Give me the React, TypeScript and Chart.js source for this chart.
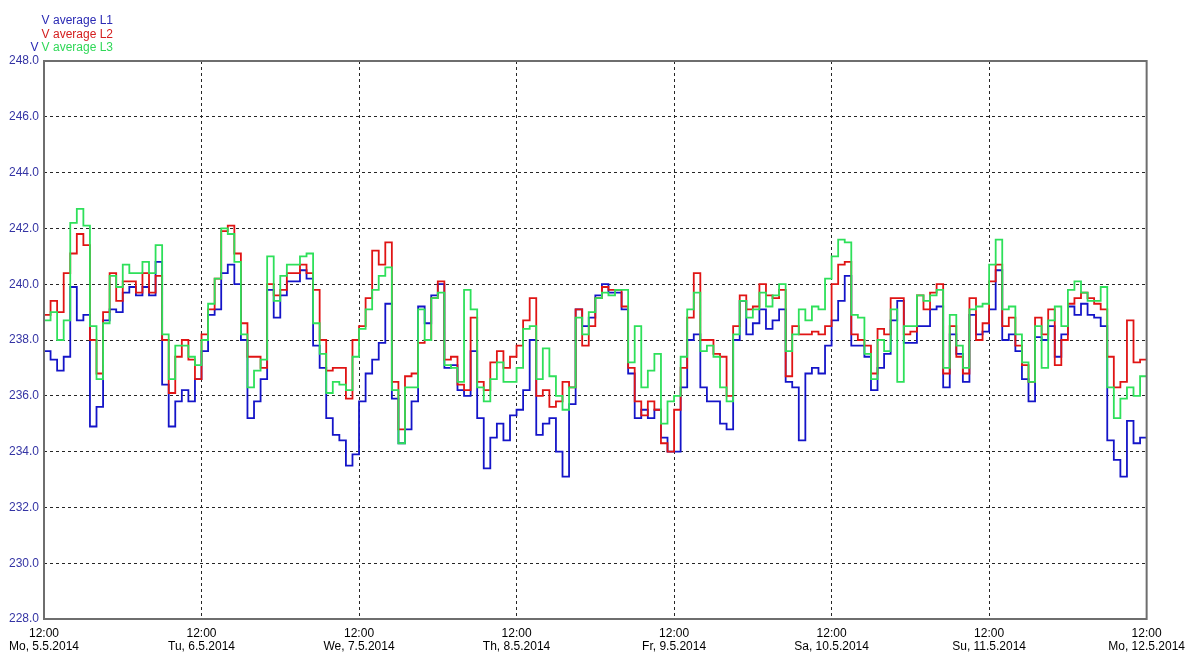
import React, { useEffect, useRef } from "react";
import { Chart, registerables } from "chart.js";

Chart.register(...registerables);

// Day tick labels (each tick is 12:00 of that day)
const timeLabel = "12:00";
const dayLabels = [
  "Mo, 5.5.2014",
  "Tu, 6.5.2014",
  "We, 7.5.2014",
  "Th, 8.5.2014",
  "Fr, 9.5.2014",
  "Sa, 10.5.2014",
  "Su, 11.5.2014",
  "Mo, 12.5.2014",
];
const yTickValues = [228, 230, 232, 234, 236, 238, 240, 242, 244, 246, 248];

// Hourly averages, starting Mo 5.5.2014 12:00 (index = hours)
const L1 = [
  237.4, 237.6, 237.3, 236.9, 237.4, 239.9, 238.7, 238.9, 234.9, 235.6,
  238.7, 239.1, 239.0, 239.7, 239.9, 239.6, 239.9, 239.6, 240.8, 236.4,
  234.9, 235.8, 236.2, 235.8, 236.6, 237.6, 238.9, 239.1, 240.4, 240.7,
  240.0, 238.0, 235.2, 235.8, 236.6, 239.8, 238.8, 239.6, 240.1, 240.1,
  240.5, 240.2, 237.8, 237.0, 235.2, 234.6, 234.4, 233.5, 233.9, 235.8,
  236.8, 237.3, 237.9, 239.3, 235.9, 234.3, 234.8, 235.8, 239.2, 238.6,
  239.6, 240.0, 237.0, 237.1, 236.2, 236.0, 237.6, 235.2, 233.4, 234.5,
  235.0, 234.4, 235.3, 235.5, 236.2, 238.0, 234.6, 235.0, 235.2, 234.0,
  233.1, 235.7, 239.1, 238.5, 238.8, 239.6, 240.0, 239.7, 239.7, 239.1,
  236.8, 235.2, 235.5, 235.2, 235.5, 234.5, 234.0, 234.0, 236.3, 238.0,
  238.2, 236.3, 235.8, 235.8, 235.0, 234.8, 238.0, 239.4, 238.2, 238.6,
  239.1, 238.4, 238.7, 239.1, 236.5, 236.3, 234.4, 236.8, 237.0, 236.8,
  237.8, 238.7, 239.4, 240.3, 237.8, 237.8, 237.4, 236.2, 237.0, 237.5,
  238.7, 239.4, 237.9, 237.9, 238.5, 238.5, 239.1, 239.2, 236.3, 238.2,
  237.5, 236.5, 238.9, 238.2, 238.3, 239.1, 240.5, 238.0, 238.2, 237.6,
  236.6, 235.8, 238.1, 238.0, 238.5, 237.4, 238.2, 239.2, 238.9, 239.3,
  238.9, 238.8, 238.5, 234.4, 233.7, 233.1, 235.1, 234.3, 234.5,
];

const L2 = [
  238.6, 238.9, 239.4, 239.0, 240.4, 241.1, 241.8, 241.4, 238.0, 236.8,
  239.0, 240.4, 239.4, 240.1, 240.1, 239.7, 240.4, 239.7, 240.3, 238.0,
  236.1, 237.4, 238.0, 237.3, 236.6, 238.2, 239.1, 240.2, 241.9, 242.1,
  241.1, 238.6, 237.4, 237.4, 237.0, 240.0, 239.6, 239.8, 240.4, 240.4,
  240.7, 240.4, 239.8, 238.0, 236.9, 237.0, 237.0, 235.9, 238.0, 238.5,
  239.5, 241.2, 240.7, 241.5, 236.5, 234.8, 236.7, 236.8, 237.9, 238.0,
  239.5, 240.1, 237.3, 237.4, 236.4, 236.2, 238.8, 236.5, 236.2, 237.2,
  237.6, 237.0, 237.4, 237.8, 238.7, 239.5, 236.0, 236.2, 235.6, 235.8,
  236.5, 236.3, 239.1, 237.8, 238.5, 239.5, 239.9, 239.8, 239.8, 239.2,
  237.0, 235.8, 235.3, 235.8, 235.5, 234.3, 234.0, 235.5, 237.0, 238.8,
  240.4, 238.0, 238.0, 237.5, 237.4, 236.0, 238.5, 239.6, 239.1, 239.2,
  240.0, 239.6, 239.5, 239.8, 236.7, 238.5, 238.2, 238.2, 238.3, 238.2,
  238.5, 240.0, 240.7, 240.8, 238.2, 238.0, 237.8, 236.8, 238.4, 238.2,
  239.5, 239.5, 238.2, 238.3, 239.6, 239.1, 239.7, 240.0, 236.8, 238.5,
  237.4, 236.8, 239.5, 238.0, 238.6, 240.1, 240.7, 238.5, 238.8, 237.8,
  237.1, 236.5, 238.8, 238.2, 239.1, 237.1, 238.0, 239.3, 239.5, 239.7,
  239.5, 239.3, 239.1, 237.4, 236.3, 236.5, 238.7, 237.2, 237.3,
];

const L3 = [
  238.2, 238.7, 239.0, 238.0, 238.7, 242.2, 242.7, 242.1, 238.5, 236.6,
  238.6, 240.3, 239.9, 240.7, 240.4, 240.4, 240.8, 240.4, 241.4, 238.2,
  236.6, 237.8, 237.8, 237.4, 237.1, 238.0, 239.3, 240.2, 242.0, 241.8,
  240.8, 238.2, 236.3, 236.9, 237.3, 241.0, 239.4, 240.3, 240.7, 240.7,
  241.0, 241.1, 238.6, 237.5, 236.1, 236.5, 236.4, 236.2, 237.4, 238.4,
  239.1, 239.8, 240.3, 240.6, 236.2, 234.3, 236.3, 236.3, 239.1, 238.0,
  239.5, 239.7, 237.1, 237.0, 236.5, 239.8, 239.1, 236.3, 235.8, 236.6,
  237.2, 236.5, 236.5, 237.0, 238.4, 238.5, 236.6, 237.7, 236.7, 236.0,
  235.5, 236.3, 238.8, 238.2, 239.0, 239.5, 239.7, 239.6, 239.8, 239.8,
  237.2, 238.5, 236.3, 236.9, 237.5, 235.0, 235.8, 236.0, 237.4, 239.1,
  239.7, 237.6, 237.8, 237.4, 236.3, 235.8, 238.2, 239.4, 238.8, 239.1,
  239.7, 239.2, 239.6, 240.0, 237.6, 238.2, 239.1, 238.7, 239.2, 239.1,
  240.2, 241.0, 241.6, 241.5, 238.9, 238.8, 237.5, 236.6, 238.0, 237.6,
  239.1, 236.5, 238.5, 238.5, 239.6, 239.4, 239.6, 239.8, 237.0, 238.9,
  237.8, 237.0, 239.1, 239.2, 239.3, 240.7, 241.6, 239.1, 239.2, 238.2,
  237.2, 236.5, 238.5, 237.0, 238.7, 239.2, 238.5, 239.8, 240.1, 239.7,
  239.4, 239.4, 239.9, 236.3, 235.2, 235.9, 236.3, 236.0, 236.7,
];

const seriesNames = ["V average L1", "V average L2", "V average L3"];
const seriesColors = ["#1414c8", "#e01414", "#2ee05a"];
const legendTextColors = ["#2a2ab4", "#d42020", "#30d858"];
const unitPrefix = "V";

const FONT = '"Liberation Sans", Arial, sans-serif';

const chartDecor = {
  id: "chartDecor",
  beforeDraw(chart: any) {
    const { ctx, width, height } = chart;
    ctx.save();
    ctx.fillStyle = "#ffffff";
    ctx.fillRect(0, 0, width, height);
    ctx.restore();
  },
  afterDraw(chart: any) {
    const { ctx, chartArea: a } = chart;
    ctx.save();
    ctx.strokeStyle = "#6e6e6e";
    ctx.lineWidth = 2;
    ctx.strokeRect(a.left, a.top, a.right - a.left, a.bottom - a.top);

    ctx.font = "12px " + FONT;
    ctx.textAlign = "right";
    ctx.textBaseline = "middle";
    const rightX = 113;
    const ys = [21, 34.5, 48];
    seriesNames.forEach((name, i) => {
      ctx.fillStyle = legendTextColors[i];
      ctx.fillText(name, rightX, ys[i]);
    });
    const w = ctx.measureText(seriesNames[2]).width;
    ctx.fillStyle = legendTextColors[0];
    ctx.fillText(unitPrefix, rightX - w - 3, ys[2]);
    ctx.restore();
  },
};

export default function App() {
  const canvasRef = useRef<HTMLCanvasElement | null>(null);

  useEffect(() => {
    if (!canvasRef.current) return;
    const series = [L1, L2, L3];
    const chart = new Chart(canvasRef.current, {
      type: "line",
      data: {
        datasets: series.map((vals, i) => ({
          label: seriesNames[i],
          data: vals.map((v, h) => ({ x: h, y: v })),
          borderColor: seriesColors[i],
          backgroundColor: seriesColors[i],
          borderWidth: 1.8,
          pointRadius: 0,
          stepped: "after" as const,
          fill: false,
          order: 2 - i,
        })),
      },
      options: {
        responsive: false,
        animation: false,
        events: [],
        layout: { padding: { top: 61, right: 38, left: 0, bottom: 0 } },
        plugins: {
          legend: { display: false },
          tooltip: { enabled: false },
          title: { display: false },
        },
        scales: {
          x: {
            type: "linear",
            min: 0,
            max: (dayLabels.length - 1) * 24,
            afterBuildTicks: (s: any) => {
              s.ticks = dayLabels.map((_, i) => ({ value: i * 24 }));
            },
            afterFit: (s: any) => {
              s.height = 36;
            },
            ticks: {
              autoSkip: false,
              maxRotation: 0,
              minRotation: 0,
              padding: 0,
              color: "#000000",
              font: { family: FONT, size: 12, lineHeight: 1.1 },
              callback: (v: any) => [timeLabel, dayLabels[Math.round(Number(v) / 24)]],
            },
            grid: {
              color: "#262626",
              lineWidth: 1,
              drawTicks: true,
              tickLength: 8,
              tickColor: "rgba(0,0,0,0)",
            },
            border: { display: false, dash: [3, 3] },
          },
          y: {
            min: 228,
            max: 248,
            afterBuildTicks: (s: any) => {
              s.ticks = yTickValues.map((v) => ({ value: v }));
            },
            afterFit: (s: any) => {
              s.width = 44;
            },
            ticks: {
              padding: 5,
              color: "#3434a4",
              font: { family: FONT, size: 12 },
              callback: (v: any) => Number(v).toFixed(1),
            },
            grid: {
              color: "#262626",
              lineWidth: 1,
              drawTicks: false,
            },
            border: { display: false, dash: [3, 3] },
          },
        },
      },
      plugins: [chartDecor],
    });
    return () => chart.destroy();
  }, []);

  return (
    <div style={{ position: "absolute", left: 0, top: 0, width: 1185, height: 655, background: "#fff" }}>
      <canvas ref={canvasRef} width={1185} height={655} style={{ display: "block" }} />
    </div>
  );
}
